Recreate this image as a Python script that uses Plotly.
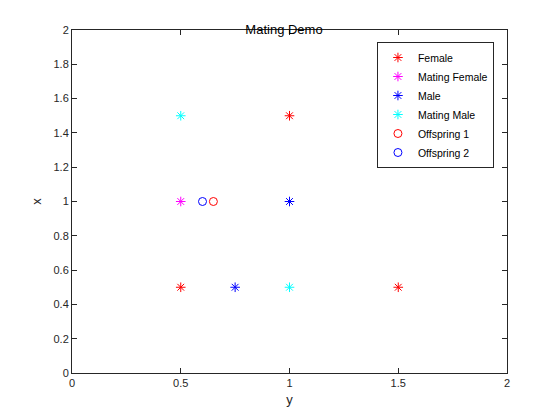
import plotly.graph_objects as go

female_x = [0.5, 1.0, 1.5]
female_y = [0.5, 1.5, 0.5]
mating_female_x = [0.5]
mating_female_y = [1.0]
male_x = [0.75, 1.0]
male_y = [0.5, 1.0]
mating_male_x = [0.5, 1.0]
mating_male_y = [1.5, 0.5]
off1_x = [0.65]
off1_y = [1.0]
off2_x = [0.6]
off2_y = [1.0]

fig = go.Figure()
def star(x, y, name, color):
    fig.add_trace(go.Scatter(x=x, y=y, mode="markers", name=name,
                             marker=dict(symbol="asterisk-open", size=8, color=color,
                                         line=dict(color=color, width=1))))
def ring(x, y, name, color):
    fig.add_trace(go.Scatter(x=x, y=y, mode="markers", name=name,
                             marker=dict(symbol="circle-open", size=8, color=color,
                                         line=dict(color=color, width=1))))

star(female_x, female_y, "Female", "#ff0000")
star(mating_female_x, mating_female_y, "Mating Female", "#ff00ff")
star(male_x, male_y, "Male", "#0000ff")
star(mating_male_x, mating_male_y, "Mating Male", "#00ffff")
ring(off1_x, off1_y, "Offspring 1", "#ff0000")
ring(off2_x, off2_y, "Offspring 2", "#0000ff")

ax = dict(showgrid=False, zeroline=False, showline=True, mirror="ticks", linecolor="#262626",
          linewidth=1, ticks="inside", ticklen=5, tickcolor="#262626",
          tickfont=dict(size=11, color="#262626"))
fig.update_xaxes(range=[0, 2], dtick=0.5, tickformat="~g",
                 title=dict(text="y", font=dict(size=13), standoff=6), **ax)
fig.update_yaxes(range=[0, 2], dtick=0.2, tickformat="~g",
                 title=dict(text="x", font=dict(size=13), standoff=8), **ax)
# page body adds an 8px margin, so the figure is shrunk to fit the window
fig.update_layout(
    width=552, height=412, plot_bgcolor="white", paper_bgcolor="white",
    font=dict(family="Liberation Sans, Arial", color="#262626"),
    title=dict(text="Mating Demo", x=0.5, xanchor="center", y=0.96,
               font=dict(size=13, color="black")),
    margin=dict(l=64, r=53, t=22, b=47),
    legend=dict(x=0.97, y=0.965, xanchor="right", yanchor="top",
                bordercolor="#262626", borderwidth=1, font=dict(size=10.5, color="black"),
                tracegroupgap=0),
)
fig.write_html("out.html")
